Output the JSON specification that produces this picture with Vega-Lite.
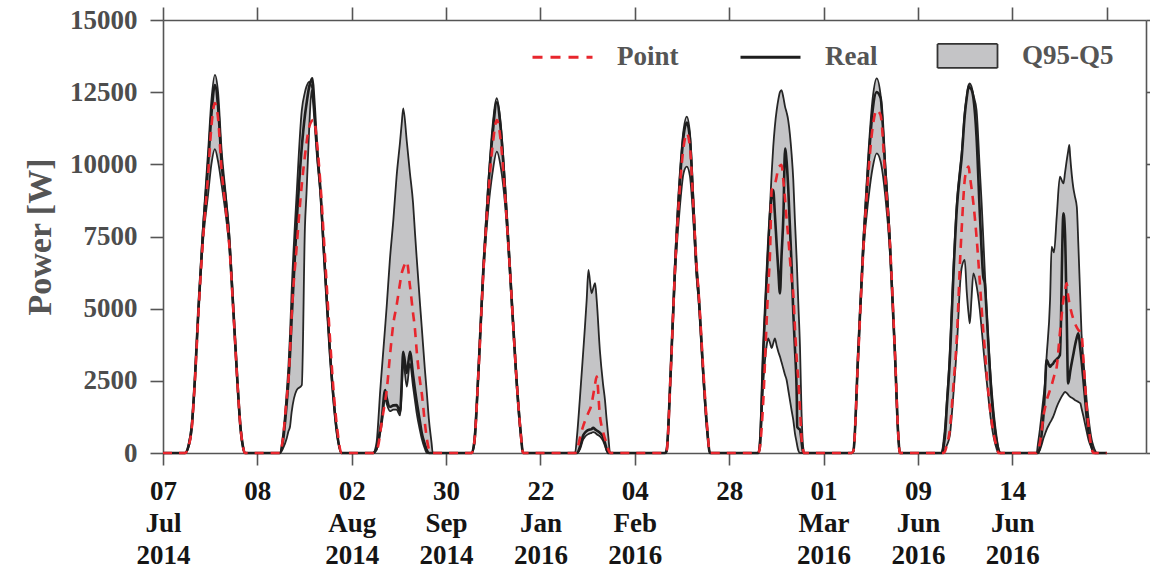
{
  "$schema": "https://vega.github.io/schema/vega-lite/v6.json",
  "width": 983,
  "height": 433,
  "autosize": {"type": "none"},
  "padding": {"left": 163, "top": 20, "right": 4, "bottom": 117},
  "background": "white",
  "data": {"values": [
    {"t":0,"hi":0,"lo":0,"real":0,"point":0},
    {"t":5.6,"hi":0,"lo":0,"real":0,"point":0},
    {"t":6.5,"hi":300,"lo":200,"real":250,"point":230},
    {"t":7.3,"hi":1000,"lo":800,"real":900,"point":850},
    {"t":8.1,"hi":2650,"lo":2400,"real":2530,"point":2450},
    {"t":9.0,"hi":5100,"lo":4800,"real":4950,"point":4800},
    {"t":10.1,"hi":7700,"lo":7200,"real":7480,"point":7250},
    {"t":11.5,"hi":10500,"lo":9000,"real":10050,"point":9700},
    {"t":12.3,"hi":12200,"lo":10000,"real":11700,"point":11300},
    {"t":13.2,"hi":13100,"lo":10530,"real":12750,"point":12120},
    {"t":14.0,"hi":12500,"lo":10100,"real":12000,"point":11600},
    {"t":14.9,"hi":10500,"lo":9300,"real":10050,"point":9800},
    {"t":16.0,"hi":8900,"lo":8200,"real":8700,"point":8400},
    {"t":16.8,"hi":7700,"lo":7200,"real":7480,"point":7300},
    {"t":17.9,"hi":5100,"lo":4800,"real":4950,"point":4900},
    {"t":18.9,"hi":2650,"lo":2400,"real":2530,"point":2500},
    {"t":19.7,"hi":1000,"lo":800,"real":900,"point":900},
    {"t":20.3,"hi":300,"lo":200,"real":250,"point":250},
    {"t":20.8,"hi":0,"lo":0,"real":0,"point":0},
    {"t":29.7,"hi":0,"lo":0,"real":0,"point":0},
    {"t":30.5,"hi":600,"lo":150,"real":400,"point":500},
    {"t":31.45,"hi":2080,"lo":500,"real":1700,"point":1900},
    {"t":31.9,"hi":3000,"lo":750,"real":2500,"point":2530},
    {"t":32.3,"hi":4100,"lo":910,"real":3400,"point":3500},
    {"t":32.7,"hi":5540,"lo":1400,"real":4600,"point":4700},
    {"t":34.0,"hi":9000,"lo":2180,"real":8000,"point":7150},
    {"t":35.3,"hi":11880,"lo":2350,"real":10600,"point":9300},
    {"t":36.1,"hi":12500,"lo":7840,"real":11700,"point":10300},
    {"t":36.5,"hi":12700,"lo":9000,"real":12100,"point":10740},
    {"t":37.2,"hi":12860,"lo":11300,"real":12700,"point":11300},
    {"t":37.8,"hi":12700,"lo":12570,"real":12950,"point":11500},
    {"t":38.0,"hi":12600,"lo":12400,"real":12980,"point":11530},
    {"t":38.4,"hi":12000,"lo":11700,"real":12300,"point":11535},
    {"t":39.2,"hi":10600,"lo":10200,"real":10500,"point":10700},
    {"t":40.1,"hi":9000,"lo":8800,"real":9000,"point":9200},
    {"t":40.8,"hi":7400,"lo":7100,"real":7250,"point":7700},
    {"t":41.6,"hi":5540,"lo":5300,"real":5400,"point":5900},
    {"t":42.5,"hi":3500,"lo":3300,"real":3400,"point":3900},
    {"t":43.3,"hi":2080,"lo":1900,"real":2000,"point":2300},
    {"t":44.3,"hi":700,"lo":600,"real":650,"point":850},
    {"t":45.4,"hi":0,"lo":0,"real":0,"point":0},
    {"t":53.4,"hi":0,"lo":0,"real":0,"point":0},
    {"t":54.3,"hi":350,"lo":100,"real":150,"point":80},
    {"t":54.8,"hi":1200,"lo":350,"real":450,"point":300},
    {"t":55.2,"hi":2080,"lo":650,"real":800,"point":650},
    {"t":55.6,"hi":2800,"lo":950,"real":1140,"point":1040},
    {"t":56.5,"hi":4375,"lo":1900,"real":2180,"point":1800},
    {"t":56.9,"hi":5100,"lo":1700,"real":1900,"point":2180},
    {"t":57.7,"hi":6690,"lo":1450,"real":1600,"point":3340},
    {"t":58.6,"hi":8100,"lo":1500,"real":1650,"point":4500},
    {"t":59.4,"hi":9570,"lo":1500,"real":1660,"point":5100},
    {"t":60.3,"hi":10800,"lo":1300,"real":1430,"point":5900},
    {"t":60.7,"hi":11400,"lo":2100,"real":2400,"point":6220},
    {"t":61.1,"hi":11940,"lo":3200,"real":3510,"point":6400},
    {"t":62.0,"hi":10800,"lo":2300,"real":2770,"point":6630},
    {"t":62.8,"hi":9700,"lo":3100,"real":3510,"point":5800},
    {"t":63.6,"hi":8650,"lo":2300,"real":2700,"point":4840},
    {"t":64.1,"hi":7600,"lo":1800,"real":2180,"point":4260},
    {"t":64.5,"hi":6800,"lo":1400,"real":1800,"point":3570},
    {"t":65.4,"hi":5100,"lo":750,"real":1040,"point":2450},
    {"t":65.8,"hi":4375,"lo":500,"real":700,"point":2080},
    {"t":66.6,"hi":2900,"lo":150,"real":300,"point":1040},
    {"t":67.1,"hi":2080,"lo":0,"real":100,"point":500},
    {"t":67.6,"hi":1200,"lo":0,"real":0,"point":150},
    {"t":68.3,"hi":350,"lo":0,"real":0,"point":0},
    {"t":68.6,"hi":0,"lo":0,"real":0,"point":0},
    {"t":78.5,"hi":0,"lo":0,"real":0,"point":0},
    {"t":79.2,"hi":500,"lo":300,"real":400,"point":400},
    {"t":80.2,"hi":2900,"lo":2600,"real":2760,"point":2700},
    {"t":81.46,"hi":6500,"lo":6100,"real":6340,"point":6200},
    {"t":82.7,"hi":9300,"lo":8400,"real":9110,"point":8900},
    {"t":83.8,"hi":11300,"lo":9700,"real":11000,"point":10600},
    {"t":84.9,"hi":12290,"lo":10440,"real":12150,"point":11535},
    {"t":85.9,"hi":11400,"lo":9900,"real":11200,"point":10800},
    {"t":87.0,"hi":9300,"lo":8600,"real":9110,"point":8900},
    {"t":88.25,"hi":6500,"lo":6100,"real":6340,"point":6300},
    {"t":89.8,"hi":2900,"lo":2600,"real":2760,"point":2800},
    {"t":90.9,"hi":900,"lo":700,"real":800,"point":800},
    {"t":91.6,"hi":0,"lo":0,"real":0,"point":0},
    {"t":104.8,"hi":0,"lo":0,"real":0,"point":0},
    {"t":105.3,"hi":600,"lo":0,"real":0,"point":100},
    {"t":106.0,"hi":1840,"lo":120,"real":200,"point":500},
    {"t":106.9,"hi":3570,"lo":480,"real":620,"point":950},
    {"t":107.3,"hi":4350,"lo":560,"real":700,"point":1100},
    {"t":107.75,"hi":5300,"lo":620,"real":760,"point":1250},
    {"t":108.2,"hi":6340,"lo":660,"real":800,"point":1400},
    {"t":109.0,"hi":5530,"lo":700,"real":830,"point":1700},
    {"t":109.4,"hi":5700,"lo":720,"real":870,"point":2000},
    {"t":109.9,"hi":5880,"lo":700,"real":820,"point":2400},
    {"t":110.3,"hi":5300,"lo":650,"real":780,"point":2650},
    {"t":111.1,"hi":3570,"lo":580,"real":700,"point":1300},
    {"t":111.9,"hi":2400,"lo":430,"real":565,"point":750},
    {"t":112.4,"hi":1840,"lo":250,"real":350,"point":500},
    {"t":112.8,"hi":1200,"lo":80,"real":150,"point":350},
    {"t":113.3,"hi":500,"lo":0,"real":0,"point":100},
    {"t":113.7,"hi":0,"lo":0,"real":0,"point":0},
    {"t":127.7,"hi":0,"lo":0,"real":0,"point":0},
    {"t":128.1,"hi":150,"lo":50,"real":100,"point":80},
    {"t":129.1,"hi":2900,"lo":2600,"real":2760,"point":2700},
    {"t":130.2,"hi":6600,"lo":6100,"real":6340,"point":6300},
    {"t":131.5,"hi":9800,"lo":8600,"real":9500,"point":9300},
    {"t":132.4,"hi":11200,"lo":9700,"real":11000,"point":10600},
    {"t":133.2,"hi":11650,"lo":9920,"real":11450,"point":11075},
    {"t":134.0,"hi":11100,"lo":9600,"real":10900,"point":10600},
    {"t":134.9,"hi":8800,"lo":8000,"real":8500,"point":8500},
    {"t":135.7,"hi":6600,"lo":6100,"real":6340,"point":6500},
    {"t":136.2,"hi":5700,"lo":5300,"real":5500,"point":5600},
    {"t":137.4,"hi":2900,"lo":2600,"real":2760,"point":2900},
    {"t":138.4,"hi":900,"lo":700,"real":800,"point":900},
    {"t":139.1,"hi":0,"lo":0,"real":0,"point":0},
    {"t":151.4,"hi":0,"lo":0,"real":0,"point":0},
    {"t":151.8,"hi":500,"lo":200,"real":220,"point":200},
    {"t":152.7,"hi":3700,"lo":2500,"real":3680,"point":1900},
    {"t":153.5,"hi":6100,"lo":3700,"real":6000,"point":4500},
    {"t":153.9,"hi":7200,"lo":3970,"real":7150,"point":5700},
    {"t":154.4,"hi":8600,"lo":3800,"real":8300,"point":7000},
    {"t":154.8,"hi":9700,"lo":3630,"real":8900,"point":9110},
    {"t":155.2,"hi":10610,"lo":3800,"real":9110,"point":9200},
    {"t":155.6,"hi":11300,"lo":3970,"real":8300,"point":9300},
    {"t":156.1,"hi":11900,"lo":3700,"real":7150,"point":9600},
    {"t":156.5,"hi":12250,"lo":3500,"real":6300,"point":9900},
    {"t":156.9,"hi":12500,"lo":3340,"real":5530,"point":9950},
    {"t":157.3,"hi":12570,"lo":3150,"real":6800,"point":9980},
    {"t":157.8,"hi":12300,"lo":2900,"real":8300,"point":9400},
    {"t":158.2,"hi":12000,"lo":2700,"real":10550,"point":8800},
    {"t":158.6,"hi":11800,"lo":2530,"real":10100,"point":8100},
    {"t":159.0,"hi":11535,"lo":2200,"real":9200,"point":7490},
    {"t":159.9,"hi":10300,"lo":1450,"real":6400,"point":6000},
    {"t":160.3,"hi":9460,"lo":1140,"real":4840,"point":5500},
    {"t":160.7,"hi":8100,"lo":700,"real":3680,"point":4400},
    {"t":161.2,"hi":6570,"lo":330,"real":1840,"point":3200},
    {"t":161.3,"hi":6200,"lo":250,"real":910,"point":3000},
    {"t":161.6,"hi":5100,"lo":80,"real":850,"point":2500},
    {"t":162.0,"hi":3680,"lo":0,"real":800,"point":1500},
    {"t":162.4,"hi":1380,"lo":0,"real":400,"point":500},
    {"t":162.8,"hi":220,"lo":0,"real":0,"point":100},
    {"t":163.1,"hi":0,"lo":0,"real":0,"point":0},
    {"t":175.2,"hi":0,"lo":0,"real":0,"point":0},
    {"t":175.6,"hi":100,"lo":50,"real":80,"point":80},
    {"t":176.8,"hi":3600,"lo":3300,"real":3450,"point":3350},
    {"t":178.1,"hi":7400,"lo":6900,"real":7150,"point":7000},
    {"t":179.4,"hi":10400,"lo":8800,"real":10000,"point":9700},
    {"t":180.5,"hi":12300,"lo":9900,"real":11900,"point":11300},
    {"t":181.5,"hi":12980,"lo":10380,"real":12500,"point":11880},
    {"t":182.5,"hi":12400,"lo":10100,"real":12300,"point":11700},
    {"t":183.7,"hi":10000,"lo":8900,"real":9800,"point":9500},
    {"t":184.9,"hi":7400,"lo":6900,"real":7150,"point":7200},
    {"t":186.15,"hi":3600,"lo":3300,"real":3450,"point":3500},
    {"t":187.0,"hi":700,"lo":500,"real":600,"point":650},
    {"t":187.4,"hi":0,"lo":0,"real":0,"point":0},
    {"t":198.0,"hi":0,"lo":0,"real":0,"point":0},
    {"t":198.5,"hi":400,"lo":50,"real":200,"point":0},
    {"t":199.0,"hi":1100,"lo":150,"real":800,"point":100},
    {"t":199.3,"hi":1720,"lo":250,"real":1500,"point":250},
    {"t":200.1,"hi":3450,"lo":600,"real":3200,"point":800},
    {"t":201.0,"hi":6340,"lo":2000,"real":6100,"point":2300},
    {"t":201.9,"hi":8700,"lo":3700,"real":8500,"point":4030},
    {"t":202.8,"hi":10000,"lo":6000,"real":9800,"point":6920},
    {"t":203.1,"hi":10380,"lo":6400,"real":10200,"point":7700},
    {"t":203.9,"hi":11800,"lo":6690,"real":11700,"point":9460},
    {"t":204.4,"hi":12340,"lo":5600,"real":12300,"point":9800},
    {"t":204.9,"hi":12750,"lo":4800,"real":12700,"point":9920},
    {"t":205.2,"hi":12800,"lo":4490,"real":12650,"point":9600},
    {"t":205.6,"hi":12700,"lo":5300,"real":12600,"point":9200},
    {"t":206.1,"hi":12400,"lo":6220,"real":12300,"point":8650},
    {"t":206.9,"hi":11880,"lo":5800,"real":10960,"point":7490},
    {"t":207.7,"hi":9900,"lo":5000,"real":8420,"point":5990},
    {"t":208.2,"hi":8650,"lo":4300,"real":7000,"point":5000},
    {"t":208.6,"hi":7500,"lo":3700,"real":6110,"point":4260},
    {"t":209.0,"hi":6300,"lo":3100,"real":5880,"point":3600},
    {"t":209.4,"hi":5190,"lo":2600,"real":5000,"point":2880},
    {"t":210.7,"hi":2300,"lo":1000,"real":2000,"point":1140},
    {"t":212.0,"hi":565,"lo":150,"real":400,"point":220},
    {"t":212.5,"hi":150,"lo":0,"real":100,"point":0},
    {"t":212.9,"hi":0,"lo":0,"real":0,"point":0},
    {"t":222.2,"hi":0,"lo":0,"real":0,"point":0},
    {"t":222.5,"hi":300,"lo":0,"real":0,"point":100},
    {"t":223.0,"hi":800,"lo":100,"real":200,"point":340},
    {"t":223.5,"hi":1400,"lo":300,"real":700,"point":800},
    {"t":223.9,"hi":1900,"lo":500,"real":1260,"point":1260},
    {"t":224.3,"hi":2410,"lo":650,"real":2200,"point":1550},
    {"t":224.7,"hi":3300,"lo":800,"real":3220,"point":1800},
    {"t":225.6,"hi":5300,"lo":1050,"real":2990,"point":2180},
    {"t":226.0,"hi":7150,"lo":1150,"real":3050,"point":2350},
    {"t":226.4,"hi":7000,"lo":1260,"real":3100,"point":2550},
    {"t":226.6,"hi":6950,"lo":1330,"real":3150,"point":2650},
    {"t":227.3,"hi":8200,"lo":1600,"real":3250,"point":2990},
    {"t":228.1,"hi":9570,"lo":1840,"real":3390,"point":4150},
    {"t":229.0,"hi":9340,"lo":2050,"real":8300,"point":5300},
    {"t":229.4,"hi":9700,"lo":2120,"real":7600,"point":5600},
    {"t":229.8,"hi":10100,"lo":2080,"real":5000,"point":5880},
    {"t":230.2,"hi":10450,"lo":2020,"real":2410,"point":5450},
    {"t":230.5,"hi":10670,"lo":1970,"real":2600,"point":5200},
    {"t":230.7,"hi":10300,"lo":1950,"real":2800,"point":5070},
    {"t":231.5,"hi":9200,"lo":1880,"real":3400,"point":4650},
    {"t":231.9,"hi":8900,"lo":1840,"real":3700,"point":4500},
    {"t":232.4,"hi":8530,"lo":1800,"real":4000,"point":4350},
    {"t":232.8,"hi":7200,"lo":1770,"real":4150,"point":4260},
    {"t":233.3,"hi":5300,"lo":1720,"real":3600,"point":4200},
    {"t":233.6,"hi":4150,"lo":1550,"real":3220,"point":4150},
    {"t":234.1,"hi":3200,"lo":1260,"real":2500,"point":3200},
    {"t":234.5,"hi":2500,"lo":1000,"real":1900,"point":2410},
    {"t":234.9,"hi":1840,"lo":750,"real":1260,"point":1600},
    {"t":235.4,"hi":1200,"lo":450,"real":700,"point":910},
    {"t":236.2,"hi":450,"lo":150,"real":200,"point":150},
    {"t":236.6,"hi":250,"lo":0,"real":50,"point":0},
    {"t":237.0,"hi":100,"lo":0,"real":0,"point":0},
    {"t":237.5,"hi":0,"lo":0,"real":0,"point":0},
    {"t":240,"hi":0,"lo":0,"real":0,"point":0}
  ]},
  "layer": [
    {
      "mark": {"type": "area", "interpolate": "monotone", "color": "#c4c4c6"},
      "encoding": {
        "x": {"field": "t", "type": "quantitative", "scale": {"domain": [0, 250], "nice": false, "zero": false},
          "axis": {"orient": "bottom", "title": null, "values": [0,24,48,72,96,120,144,168,192,216],
            "tickSize": 12, "labelPadding": 13, "labelLineHeight": 32, "labelColor": "#151515",
            "labelFlush": false, "labelOverlap": false,
            "labelExpr": "datum.value == 0 ? ['07','Jul','2014'] : datum.value == 24 ? ['08'] : datum.value == 48 ? ['02','Aug','2014'] : datum.value == 72 ? ['30','Sep','2014'] : datum.value == 96 ? ['22','Jan','2016'] : datum.value == 120 ? ['04','Feb','2016'] : datum.value == 144 ? ['28'] : datum.value == 168 ? ['01','Mar','2016'] : datum.value == 192 ? ['09','Jun','2016'] : ['14','Jun','2016']"}},
        "y": {"field": "lo", "type": "quantitative", "scale": {"domain": [0, 15000], "nice": false},
          "axis": {"orient": "left", "title": "Power [W]", "values": [0,2500,5000,7500,10000,12500,15000], "format": "d",
            "tickSize": 13, "labelPadding": 13, "labelColor": "#4d4d4d", "labelFlush": false, "labelOverlap": false,
            "titleColor": "#555555", "titleFontSize": 34, "titlePadding": 12}},
        "y2": {"field": "hi"}
      }
    },
    {
      "mark": {"type": "line", "interpolate": "monotone", "color": "#262626", "strokeWidth": 1.8},
      "encoding": {
        "x": {"field": "t", "type": "quantitative",
          "axis": {"orient": "top", "title": null, "labels": false, "values": [0,24,48,72,96,120,144,168,192,216,240], "tickSize": 13}},
        "y": {"field": "lo", "type": "quantitative",
          "axis": {"orient": "right", "title": null, "labels": false, "values": [0,2500,5000,7500,10000,12500,15000], "tickSize": 12}}
      }
    },
    {
      "mark": {"type": "line", "interpolate": "monotone", "color": "#262626", "strokeWidth": 1.8},
      "encoding": {
        "x": {"field": "t", "type": "quantitative", "axis": null},
        "y": {"field": "hi", "type": "quantitative", "axis": null}
      }
    },
    {
      "mark": {"type": "line", "interpolate": "monotone", "strokeWidth": 2.6},
      "encoding": {
        "x": {"field": "t", "type": "quantitative", "axis": null},
        "y": {"field": "real", "type": "quantitative", "axis": null},
        "color": {"datum": "Real",
          "scale": {"domain": ["Point", "Real", "Q95-Q5"], "range": ["#e8262d", "#1e1e1e", "#333333"]},
          "legend": {"title": null, "orient": "none", "legendX": 386, "legendY": 22, "direction": "horizontal",
            "symbolSize": 3600, "symbolStrokeWidth": 3, "labelOffset": 41, "columnPadding": 55, "padding": 0,
            "labelFont": "Liberation Serif", "labelFontSize": 27, "labelFontWeight": "bold", "labelColor": "#555555",
            "encode": {"symbols": {"update": {
              "shape": {"signal": "datum.value === 'Q95-Q5' ? 'M-1,-0.4H1V0.4H-1Z' : 'stroke'"},
              "strokeDash": {"signal": "datum.value === 'Point' ? [10,8] : [1,0]"},
              "fill": {"signal": "datum.value === 'Q95-Q5' ? '#c4c4c6' : 'transparent'"},
              "fillOpacity": {"value": 1},
              "strokeOpacity": {"value": 1},
              "strokeWidth": {"signal": "datum.value === 'Q95-Q5' ? 1.8 : 3.2"},
              "opacity": {"value": 1}
            }}}}
        }
      }
    },
    {
      "mark": {"type": "line", "interpolate": "monotone", "strokeWidth": 2.6, "strokeDash": [9, 7]},
      "encoding": {
        "x": {"field": "t", "type": "quantitative", "axis": null},
        "y": {"field": "point", "type": "quantitative", "axis": null},
        "color": {"datum": "Point"}
      }
    }
  ],
  "resolve": {"axis": {"x": "independent", "y": "independent"}},
  "config": {
    "view": {"stroke": null},
    "font": "Liberation Serif",
    "axis": {"domainColor": "#555555", "tickColor": "#555555", "domainWidth": 1.6, "tickWidth": 1.6, "grid": false,
      "labelFont": "Liberation Serif", "labelFontWeight": "bold", "labelFontSize": 27,
      "titleFont": "Liberation Serif", "titleFontWeight": "bold"}
  }
}
